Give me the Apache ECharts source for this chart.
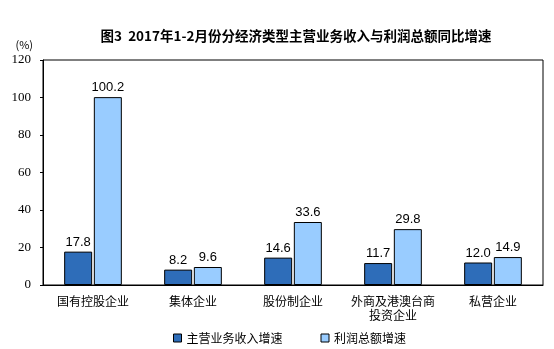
<!DOCTYPE html>
<html><head><meta charset="utf-8">
<script src="https://cdn.jsdelivr.net/npm/echarts@6/dist/echarts.min.js"></script>
<style>html,body{margin:0;padding:0;background:#fff}#c{width:554px;height:349px}</style>
</head><body><div id="c"></div>
<script>
const categories = ['国有控股企业', '集体企业', '股份制企业', '外商及港澳台商\n投资企业', '私营企业'];
const revenueGrowth = [17.8, 8.2, 14.6, 11.7, 12.0];
const profitGrowth = [100.2, 9.6, 33.6, 29.8, 14.9];
const seriesNames = ['主营业务收入增速', '利润总额增速'];
const yTicks = [0, 20, 40, 60, 80, 100, 120];

const chart = echarts.init(document.getElementById('c'));
const cjk = '"Noto Sans CJK SC", sans-serif';
const lbl = {show: true, position: 'top', distance: 3, color: '#000', fontFamily: 'Liberation Sans, Arial', fontSize: 13,
  formatter: p => p.value.toFixed(1)};
chart.setOption({
  animation: false,
  title: {text: '图3  2017年1-2月份分经济类型主营业务收入与利润总额同比增速', left: 291, textAlign: 'center', top: 24,
    textStyle: {fontFamily: cjk, fontSize: 13.5, fontWeight: 'bold', color: '#000'}},
  legend: {top: 327, left: 168, itemWidth: 8, itemHeight: 8, itemGap: 38,
    textStyle: {fontFamily: cjk, fontSize: 12, color: '#000'},
    data: seriesNames.map(n => ({name: n, icon: 'rect', itemStyle: {borderColor: '#000', borderWidth: 1}}))},
  grid: {left: 43, right: 11, top: 60, bottom: 64, show: true, borderColor: '#000', borderWidth: 1},
  xAxis: {type: 'category', data: categories,
    axisLine: {lineStyle: {color: '#000'}}, axisTick: {show: false},
    axisLabel: {interval: 0, fontFamily: cjk, fontSize: 12, color: '#000', margin: 9, lineHeight: 14}},
  yAxis: {type: 'value', min: 0, max: 120, interval: 20,
    name: '(%)', nameLocation: 'end', nameGap: 10, nameTextStyle: {fontFamily: cjk, fontSize: 11, color: '#000', align: 'right', padding: [0, 10, 0, 0]},
    axisLine: {show: true, lineStyle: {color: '#000'}}, axisTick: {show: true, length: 3, lineStyle: {color: '#000'}},
    splitLine: {show: false},
    axisLabel: {fontFamily: 'Liberation Serif', fontSize: 13, color: '#000', margin: 12,
      formatter: v => yTicks.includes(v) ? String(v) : ''}},
  series: [
    {name: seriesNames[0], type: 'bar', data: revenueGrowth, barWidth: 28, barGap: '6%',
      itemStyle: {color: '#2E6DB9', borderColor: '#000', borderWidth: 1}, label: lbl},
    {name: seriesNames[1], type: 'bar', data: profitGrowth, barWidth: 28,
      itemStyle: {color: '#99CCFF', borderColor: '#000', borderWidth: 1}, label: lbl}
  ]
});
</script></body></html>
